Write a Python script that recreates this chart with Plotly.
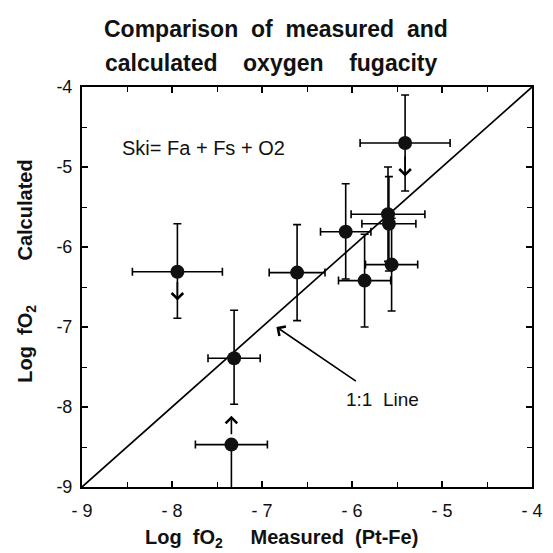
import plotly.graph_objects as go

# Measured (Pt-Fe) log fO2, calculated log fO2, and error bars
measured = [-5.41, -5.60, -5.59, -5.56, -6.07, -5.86, -6.61, -7.94, -7.31, -7.34]
calculated = [-4.70, -5.59, -5.71, -6.22, -5.81, -6.42, -6.32, -6.31, -7.39, -8.47]
x_err = [0.50, 0.41, 0.30, 0.29, 0.28, 0.29, 0.31, 0.50, 0.29, 0.40]
y_err_plus = [0.60, 0.59, 0.59, 0.58, 0.60, 0.58, 0.60, 0.60, 0.60, 0.0]
y_err_minus = [0.60, 0.59, 0.59, 0.58, 0.59, 0.58, 0.60, 0.58, 0.575, 0.6]

# limit arrows: (x, tail_y, head_y)
arrow_x = [-5.41, -7.94, -7.34]
arrow_tail = [-4.85, -6.42, -8.36]
arrow_head = [-5.12, -6.67, -8.11]

one_to_one = [-9, -4]
tick_vals = [-9, -8, -7, -6, -5, -4]
x_tick_text = ["- 9", "- 8", "- 7", "- 6", "- 5", "- 4"]
y_tick_text = ["-9", "-8", "-7", "-6", "-5", "-4"]

FONT = "Liberation Sans, Arial, Helvetica, sans-serif"
NB = "\u00a0"

fig = go.Figure()

fig.add_trace(go.Scatter(
    x=one_to_one, y=one_to_one, mode="lines",
    line=dict(color="black", width=1.7), showlegend=False, hoverinfo="skip"))

fig.add_trace(go.Scatter(
    x=measured, y=calculated, mode="markers",
    marker=dict(color="#111111", size=14),
    error_x=dict(type="data", array=x_err, color="black", thickness=1.6, width=4),
    error_y=dict(type="data", symmetric=False, array=y_err_plus,
                 arrayminus=y_err_minus, color="black", thickness=1.6, width=4),
    showlegend=False))

annotations = []
for ax_, t, h in zip(arrow_x, arrow_tail, arrow_head):
    annotations.append(dict(
        x=ax_, y=h, ax=ax_, ay=t, xref="x", yref="y", axref="x", ayref="y",
        showarrow=True, arrowhead=4, arrowsize=1.4, arrowwidth=1.6,
        arrowcolor="black", text=""))

annotations.append(dict(
    x=-6.84, y=-7.0, ax=-5.94, ay=-7.69, xref="x", yref="y", axref="x", ayref="y",
    showarrow=True, arrowhead=4, arrowsize=1.4, arrowwidth=1.6,
    arrowcolor="black", text=""))
annotations.append(dict(
    x=-5.66, y=-7.91, xref="x", yref="y", text="1:1" + NB * 2 + "Line", showarrow=False,
    font=dict(family=FONT, size=19, color="#111111")))
annotations.append(dict(
    x=-8.58, y=-4.76, xref="x", yref="y", text="Ski= Fa + Fs + O2",
    showarrow=False, xanchor="left",
    font=dict(family=FONT, size=20, color="#111111")))

# Title as two lines (paper coords: plot spans y px 87..487)
title_lines = ["Comparison" + NB * 2 + "of" + NB * 2 + "measured" + NB * 2 + "and",
               "calculated" + NB * 4 + "oxygen" + NB * 4 + "fugacity"]
title_y = [1.145, 1.06]
title_x = [0.43, 0.42]
for txt, ty, tx in zip(title_lines, title_y, title_x):
    annotations.append(dict(
        x=tx, y=ty, xref="paper", yref="paper", text="<b>" + txt + "</b>",
        showarrow=False, xanchor="center", yanchor="middle",
        font=dict(family=FONT, size=23, color="#111111")))

# axis titles as annotations
annotations.append(dict(
    x=-6.78, y=-0.128, xref="x", yref="paper", showarrow=False,
    text="<b>Log" + NB * 2 + "fO<sub>2</sub>" + NB * 5 + "Measured" + NB * 2 + "(Pt-Fe)</b>",
    xanchor="center", yanchor="middle",
    font=dict(family=FONT, size=20, color="#111111")))
annotations.append(dict(
    x=-0.125, y=-6.3, xref="paper", yref="y", showarrow=False, textangle=-90,
    text="<b>Log" + NB * 2 + "fO<sub>2</sub>" + NB * 8 + "Calculated</b>",
    xanchor="center", yanchor="middle",
    font=dict(family=FONT, size=20, color="#111111")))

fig.update_layout(
    width=553, height=553,
    margin=dict(l=82, r=10, t=87, b=66),
    paper_bgcolor="white", plot_bgcolor="white",
    annotations=annotations,
    font=dict(family=FONT, color="black"),
)

axis_common = dict(
    showline=True, linecolor="black", linewidth=2, mirror="ticks",
    ticks="inside", ticklen=6, tickwidth=1.5, tickcolor="black",
    showgrid=False, zeroline=False,
    tickfont=dict(family=FONT, size=18, color="#111111"),
    ticklabeloverflow="allow",
    minor=dict(dtick=0.5, ticks="inside", ticklen=5, tickwidth=1.2, tickcolor="black", showgrid=False),
)

fig.update_xaxes(range=[-9, -4], tickvals=tick_vals, ticktext=x_tick_text,
                 ticklabelstandoff=6, **axis_common)
fig.update_yaxes(range=[-9, -4], tickvals=tick_vals, ticktext=y_tick_text,
                 ticklabelstandoff=4, **axis_common)

fig.write_html("out.html")
